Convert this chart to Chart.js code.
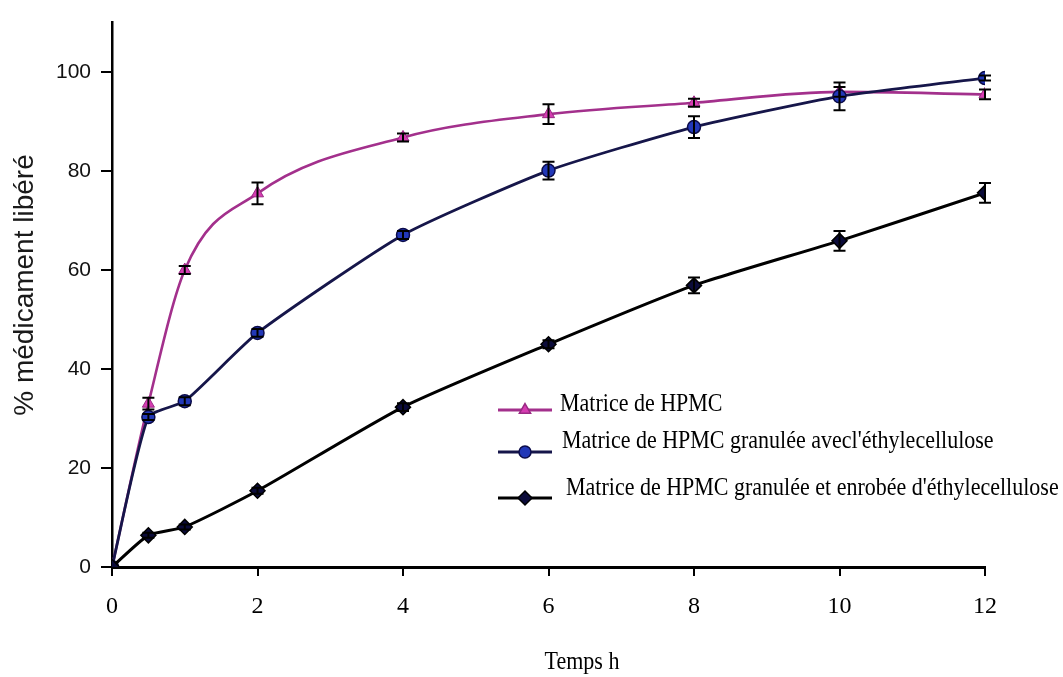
<!DOCTYPE html>
<html>
<head>
  <meta charset="UTF-8">
  <title>Libération du médicament</title>
  <script src="https://cdn.jsdelivr.net/npm/chart.js"></script>
  <style>
    html, body {
      margin: 0;
      padding: 0;
      background: #fff;
      overflow: hidden;
    }
    canvas {
      display: block;
    }
  </style>
</head>
<body>
  <canvas id="releaseChart" width="1063" height="677"></canvas>

  <script>
  // Time points (h)
  const hours = [0, 0.5, 1, 2, 4, 6, 8, 10, 12];

  // % drug released
  const hpmc = [0, 33, 60, 75.5, 86.8, 91.5, 93.8, 96, 95.5];
  const hpmcErr = [0, 1.2, 0.8, 2.2, 0.8, 2, 0.8, 1, 1];

  const granulee = [0, 30.3, 33.5, 47.3, 67.1, 80.1, 88.9, 95.1, 98.8];
  const granuleeErr = [0, 0.6, 0.8, 0.8, 0.8, 1.8, 2.2, 2.8, 0.5];

  const enrobee = [0, 6.4, 8.1, 15.4, 32.3, 45, 56.9, 65.9, 75.6];
  const enrobeeErr = [0, 0.5, 0.5, 0.6, 0.8, 0.8, 1.6, 2, 2];

  const seriesLabels = [
    'Matrice de HPMC',
    'Matrice de HPMC granulée avecl\'éthylecellulose',
    'Matrice de HPMC granulée et enrobée d\'éthylecellulose'
  ];

  const xTitle = 'Temps h';
  const yTitle = '% médicament libéré';

  function toPoints(values) {
    return hours.map((h, i) => ({ x: h, y: values[i] }));
  }

  // Draws the +/- error bars through the chart scales
  const errorBars = {
    id: 'errorBars',
    afterDatasetsDraw(chart) {
      const { ctx, scales: { x, y } } = chart;
      ctx.save();
      ctx.strokeStyle = '#000';
      ctx.lineWidth = 2;
      chart.data.datasets.forEach(ds => {
        ds.data.forEach((p, j) => {
          const e = ds.errors[j];
          if (!e) return;
          const px = x.getPixelForValue(p.x);
          const top = y.getPixelForValue(p.y + e);
          const bot = y.getPixelForValue(p.y - e);
          ctx.beginPath();
          ctx.moveTo(px, top); ctx.lineTo(px, bot);
          ctx.moveTo(px - 6, top); ctx.lineTo(px + 6, top);
          ctx.moveTo(px - 6, bot); ctx.lineTo(px + 6, bot);
          ctx.stroke();
        });
      });
      ctx.restore();
    }
  };

  // Legend inside the plot + axis titles
  const legendAndTitles = {
    id: 'legendAndTitles',
    afterDraw(chart) {
      const ctx = chart.ctx;
      ctx.save();

      const rows = [
        { lineY: 410, textY: 405, textX: 560 },
        { lineY: 452, textY: 442, textX: 562 },
        { lineY: 498, textY: 489, textX: 566 }
      ];
      chart.data.datasets.forEach((ds, i) => {
        const r = rows[i];
        ctx.strokeStyle = ds.borderColor;
        ctx.lineWidth = 2.8;
        ctx.beginPath();
        ctx.moveTo(498, r.lineY);
        ctx.lineTo(552, r.lineY);
        ctx.stroke();
        ctx.fillStyle = ds.pointBackgroundColor;
        ctx.strokeStyle = ds.pointBorderColor;
        ctx.lineWidth = 1.5;
        Chart.helpers.drawPoint(ctx, {
          pointStyle: ds.pointStyle,
          radius: ds.pointRadius - 0.5,
          rotation: 0,
          borderWidth: 1.5
        }, 525, r.lineY);

        // serif legend text, a little taller than wide like the source
        ctx.save();
        ctx.translate(r.textX, r.textY);
        ctx.scale(1, 1.12);
        ctx.fillStyle = '#000';
        ctx.font = '22px "Liberation Serif", serif';
        ctx.textAlign = 'left';
        ctx.textBaseline = 'middle';
        ctx.fillText(ds.label, 0, 0);
        ctx.restore();
      });

      ctx.save();
      ctx.translate(582, 663);
      ctx.scale(1, 1.12);
      ctx.fillStyle = '#000';
      ctx.font = '22px "Liberation Serif", serif';
      ctx.textAlign = 'center';
      ctx.textBaseline = 'middle';
      ctx.fillText(xTitle, 0, 0);
      ctx.restore();

      ctx.translate(25, 285);
      ctx.rotate(-Math.PI / 2);
      ctx.textAlign = 'center';
      ctx.textBaseline = 'middle';
      ctx.font = '28px "Liberation Sans", Arial, sans-serif';
      ctx.fillStyle = '#1a1a1a';
      ctx.fillText(yTitle, 0, 0);

      ctx.restore();
    }
  };

  const chart = new Chart(document.getElementById('releaseChart'), {
    type: 'line',
    data: {
      datasets: [
        {
          label: seriesLabels[0],
          data: toPoints(hpmc),
          errors: hpmcErr,
          borderColor: '#a3308c',
          borderWidth: 2.6,
          pointStyle: 'triangle',
          pointRadius: 7,
          pointBackgroundColor: '#d63cb2',
          pointBorderColor: '#9a2a84',
          pointBorderWidth: 1,
          cubicInterpolationMode: 'monotone',
          order: 2
        },
        {
          label: seriesLabels[1],
          data: toPoints(granulee),
          errors: granuleeErr,
          borderColor: '#16164a',
          borderWidth: 2.8,
          pointStyle: 'circle',
          pointRadius: 6.5,
          pointBackgroundColor: '#2238b8',
          pointBorderColor: '#0c0c4a',
          pointBorderWidth: 1.5,
          tension: 0.18,
          order: 1
        },
        {
          label: seriesLabels[2],
          data: toPoints(enrobee),
          errors: enrobeeErr,
          borderColor: '#000000',
          borderWidth: 3,
          pointStyle: 'rectRot',
          pointRadius: 7.5,
          pointBackgroundColor: '#0b0b3a',
          pointBorderColor: '#000000',
          pointBorderWidth: 1.5,
          tension: 0.2,
          order: 0
        }
      ]
    },
    options: {
      responsive: false,
      animation: false,
      devicePixelRatio: 1,
      layout: { padding: { top: 18, right: 78, left: 0, bottom: 0 } },
      plugins: {
        legend: { display: false },
        tooltip: { enabled: false }
      },
      scales: {
        x: {
          type: 'linear',
          min: 0,
          max: 12,
          ticks: {
            stepSize: 2,
            color: '#000',
            padding: 16,
            font: { family: '"Liberation Serif", serif', size: 24 }
          },
          grid: {
            drawOnChartArea: false,
            tickLength: 9,
            color: '#000',
            lineWidth: 2
          },
          border: { color: '#000', width: 3 },
          afterFit(scale) { scale.height = 110; }
        },
        y: {
          min: 0,
          max: 110,
          ticks: {
            stepSize: 20,
            color: '#111',
            padding: 10,
            font: { family: '"Liberation Sans", Arial, sans-serif', size: 21 }
          },
          afterBuildTicks(scale) {
            scale.ticks = scale.ticks.filter(t => t.value <= 100);
          },
          grid: {
            drawOnChartArea: false,
            tickLength: 11,
            color: '#000',
            lineWidth: 2
          },
          border: { color: '#000', width: 2.5 },
          afterFit(scale) { scale.width = 112; }
        }
      }
    },
    plugins: [errorBars, legendAndTitles]
  });
  </script>
</body>
</html>
